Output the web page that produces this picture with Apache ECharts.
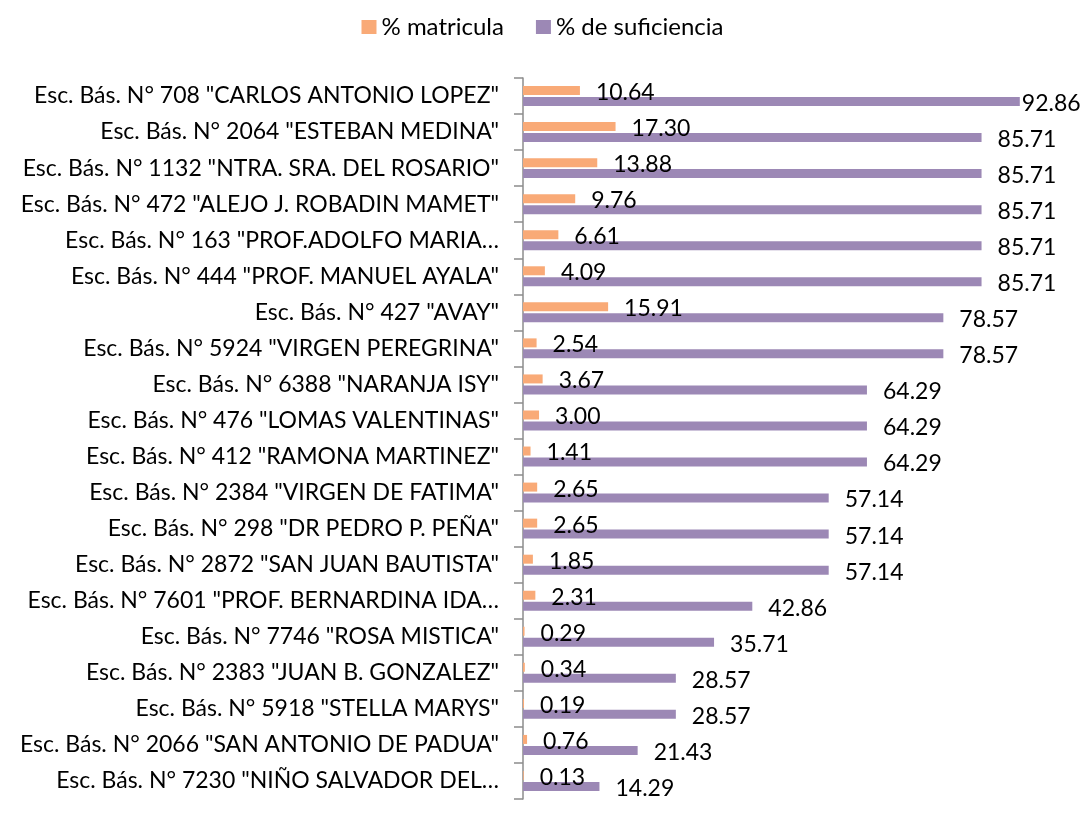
<!DOCTYPE html>
<html>
<head>
<meta charset="utf-8">
<script src="https://cdn.jsdelivr.net/npm/echarts@6/dist/echarts.min.js"></script>
<style>
	html, body { margin:0; padding:0; background:#fff; }
	#grafico { width:1085px; height:818px; }
</style>
</head>
<body>
<div id="grafico"></div>
<script>
	// DADOS DO GRAFICO (de cima para baixo)
	var escolas = [
		'Esc. Bás. N° 708 "CARLOS ANTONIO LOPEZ"',
		'Esc. Bás. N° 2064 "ESTEBAN MEDINA"',
		'Esc. Bás. N° 1132 "NTRA. SRA. DEL ROSARIO"',
		'Esc. Bás. N° 472 "ALEJO J. ROBADIN MAMET"',
		'Esc. Bás. N° 163 "PROF.ADOLFO MARIA…',
		'Esc. Bás. N° 444 "PROF. MANUEL AYALA"',
		'Esc. Bás. N° 427 "AVAY"',
		'Esc. Bás. N° 5924 "VIRGEN PEREGRINA"',
		'Esc. Bás. N° 6388 "NARANJA ISY"',
		'Esc. Bás. N° 476 "LOMAS VALENTINAS"',
		'Esc. Bás. N° 412 "RAMONA MARTINEZ"',
		'Esc. Bás. N° 2384 "VIRGEN DE FATIMA"',
		'Esc. Bás. N° 298 "DR PEDRO P. PEÑA"',
		'Esc. Bás. N° 2872 "SAN JUAN BAUTISTA"',
		'Esc. Bás. N° 7601 "PROF. BERNARDINA IDA…',
		'Esc. Bás. N° 7746 "ROSA MISTICA"',
		'Esc. Bás. N° 2383 "JUAN B. GONZALEZ"',
		'Esc. Bás. N° 5918 "STELLA MARYS"',
		'Esc. Bás. N° 2066 "SAN ANTONIO DE PADUA"',
		'Esc. Bás. N° 7230 "NIÑO SALVADOR DEL…'
	];
	var matricula = [10.64, 17.30, 13.88, 9.76, 6.61, 4.09, 15.91, 2.54, 3.67, 3.00,
		1.41, 2.65, 2.65, 1.85, 2.31, 0.29, 0.34, 0.19, 0.76, 0.13];
	var suficiencia = [92.86, 85.71, 85.71, 85.71, 85.71, 85.71, 78.57, 78.57, 64.29, 64.29,
		64.29, 57.14, 57.14, 57.14, 42.86, 35.71, 28.57, 28.57, 21.43, 14.29];

	var fonte = 'Lato, "Liberation Sans", sans-serif';
	var corMat = '#F9AA77';
	var corSuf = '#9C88B5';

	var rotulo = function(dist){
		return {
			show: true,
			position: 'right',
			distance: dist,
			offset: [0, 2],
			color: '#000',
			fontFamily: fonte,
			fontSize: 23,
			formatter: function(p){ return Number(p.value).toFixed(2); }
		};
	}

	// o primeiro rotulo fica colado na barra (limite da area)
	var dadosSuf = suficiencia.map(function(v, i){
		if(i == 0) return { value: v, label: { distance: 2 } };
		return v;
	});

	var myChart = echarts.init(document.getElementById('grafico'));
	var option = {
		animation: false,
		legend: {
			top: 10,
			left: 'center',
			itemWidth: 15,
			itemHeight: 14,
			itemGap: 32,
			icon: 'rect',
			textStyle: { fontFamily: fonte, fontSize: 24, color: '#000' },
			data: ['% matricula', '% de suficiencia']
		},
		grid: { left: 523, right: 27, top: 78, bottom: 19 },
		xAxis: {
			type: 'value',
			min: 0,
			max: 100,
			show: false
		},
		yAxis: {
			type: 'category',
			inverse: true,
			data: escolas,
			axisLine: { show: true, lineStyle: { color: '#8C8C8C', width: 1.5 } },
			axisTick: { show: true, length: 9, lineStyle: { color: '#8C8C8C', width: 1.5 } },
			axisLabel: { color: '#000', fontFamily: fonte, fontSize: 23, margin: 24 }
		},
		series: [
			{
				name: '% matricula',
				type: 'bar',
				barWidth: 9,
				barGap: '22%',
				itemStyle: { color: corMat },
				label: rotulo(16),
				data: matricula
			},
			{
				name: '% de suficiencia',
				type: 'bar',
				barWidth: 9,
				itemStyle: { color: corSuf },
				label: rotulo(16),
				data: dadosSuf
			}
		]
	};
	myChart.setOption(option);
</script>
</body>
</html>
